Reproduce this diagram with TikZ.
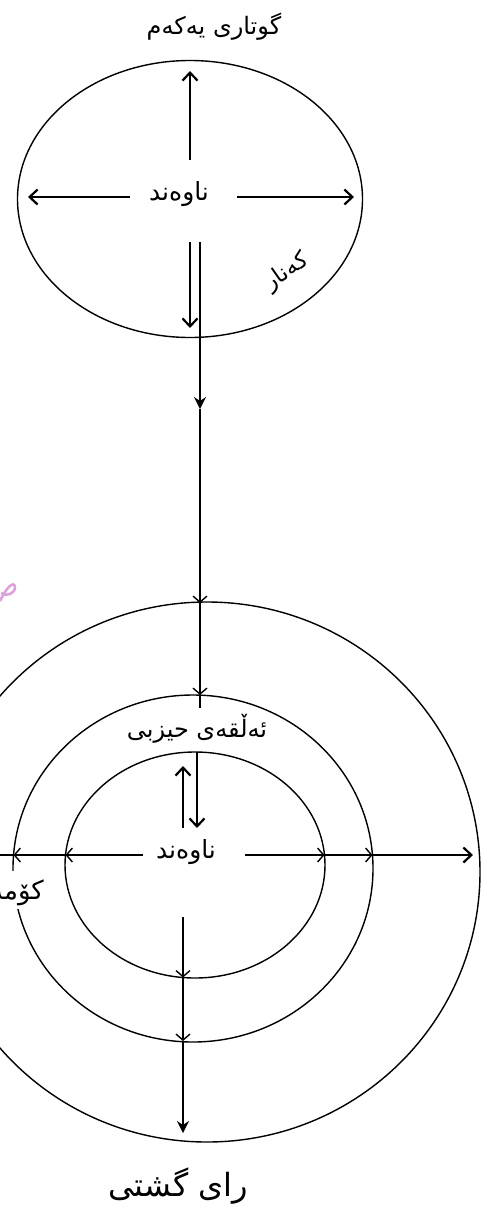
\documentclass[tikz,border=0pt]{standalone}
\usepackage{fontspec}
\newfontfamily\arabicfont[Script=Arabic]{DejaVu Sans}
\TeXXeTstate=1
\usetikzlibrary{arrows.meta,shapes.geometric}
\begin{document}
\begin{tikzpicture}[x=1pt,y=-1pt,
  ring/.style={draw, ellipse, line width=1.4pt, inner sep=0pt, outer sep=0pt},
  ln/.style={line width=1.4pt},
  vtip/.style={ln, -{Straight Barb[length=6pt,width=14pt,line width=1.4pt]}},
  endtip/.style={ln, -{Straight Barb[length=8pt,width=15pt,line width=2.2pt]}},
  soltip/.style={ln, -{Stealth[length=12pt,width=12pt]}},
  lbl/.style={font=\arabicfont, inner sep=1pt}]
\useasboundingbox (0,0) rectangle (484,1213);
\clip (0,0) rectangle (484,1213);
% watermark fragment
\draw[color={rgb,255:red,220;green,160;blue,220}, line width=2.5pt] (0,601) .. controls (6,588) and (14,580) .. (15,587) .. controls (15,594) and (6,597) .. (1,593);
% top ellipse
\node[ring, minimum width=345pt, minimum height=277pt] (E) at (190,199) {};
\node[lbl, font=\arabicfont\fontsize{24}{27}\selectfont] (title) at (214,27) {\beginR گوتاری یەکەم\endR};
\node[lbl, font=\arabicfont\fontsize{25}{28}\selectfont] (c1) at (179,194) {\beginR ناوەند\endR};
\node[lbl, font=\arabicfont\fontsize{23}{26}\selectfont, rotate=35] (edge) at (287,272) {\beginR کەنار\endR};
\coordinate (eL) at (130,197);
\coordinate (eLt) at (28,197);
\coordinate (eR) at (237,197);
\coordinate (eRt) at (354,197);
\draw[endtip] (eL) -- (eLt);
\draw[endtip] (eR) -- (eRt);
\coordinate (eU0) at (190,160);
\coordinate (eU1) at (190,71);
\draw[endtip] (eU0) -- (eU1);
\coordinate (eD0) at (190,242);
\coordinate (eD1) at (190,328);
\draw[endtip] (eD0) -- (eD1);
% long connector
\coordinate (t0) at (200,242);
\coordinate (t1) at (200,409);
\coordinate (Otop) at (200,603);
\coordinate (Mtop) at (200,695);
\coordinate (t4) at (200,708);
% bottom circles
\node[ring, minimum width=546pt, minimum height=540pt] (O) at (207,872) {};
\node[ring, minimum width=360pt, minimum height=347pt] (M) at (193,868.5) {};
\node[ring, minimum width=260pt, minimum height=226pt] (I) at (195,865) {};
\draw[soltip] (t0) -- (t1);
\draw[vtip] (t1) -- (Otop);
\draw[vtip] (Otop) -- (Mtop);
\draw[ln] (Mtop) -- (t4);
\node[lbl, font=\arabicfont\fontsize{24}{27}\selectfont] (party) at (197,729) {\beginR ئەڵقەی حیزبی\endR};
\node[lbl, font=\arabicfont\fontsize{25}{28}\selectfont] (c2) at (186,852) {\beginR ناوەند\endR};
\node[lbl, font=\arabicfont\fontsize{26}{29}\selectfont, fill=white, anchor=east, inner sep=3pt] (soc) at (47,890) {\beginR کۆمەڵ\endR};
% inner vertical arrows
\coordinate (iU0) at (183,828);
\coordinate (iU1) at (183,766);
\draw[endtip] (iU0) -- (iU1);
\coordinate (iD0) at (197,752);
\coordinate (iD1) at (197,828);
\draw[endtip] (iD0) -- (iD1);
% horizontal arrows
\coordinate (hL0) at (143,855);
\coordinate (hIL) at (65.5,855);
\coordinate (hML) at (13.5,855);
\coordinate (hOL) at (-65,855);
\draw[vtip] (hL0) -- (hIL);
\draw[vtip] (hIL) -- (hML);
\draw[endtip] (hML) -- (hOL);
\coordinate (hR0) at (245,855);
\coordinate (hIR) at (324.5,855);
\coordinate (hMR) at (372.5,855);
\coordinate (hOR) at (473,855);
\draw[vtip] (hR0) -- (hIR);
\draw[vtip] (hIR) -- (hMR);
\draw[endtip] (hMR) -- (hOR);
% bottom vertical
\coordinate (b0) at (183,917);
\coordinate (bI) at (183,977.5);
\coordinate (bM) at (183,1041);
\coordinate (bE) at (183,1133);
\draw[vtip] (b0) -- (bI);
\draw[vtip] (bI) -- (bM);
\draw[soltip] (bM) -- (bE);
\node[lbl, font=\arabicfont\fontsize{32}{36}\selectfont] (public) at (178,1186) {\beginR رای گشتی\endR};
\end{tikzpicture}
\end{document}
